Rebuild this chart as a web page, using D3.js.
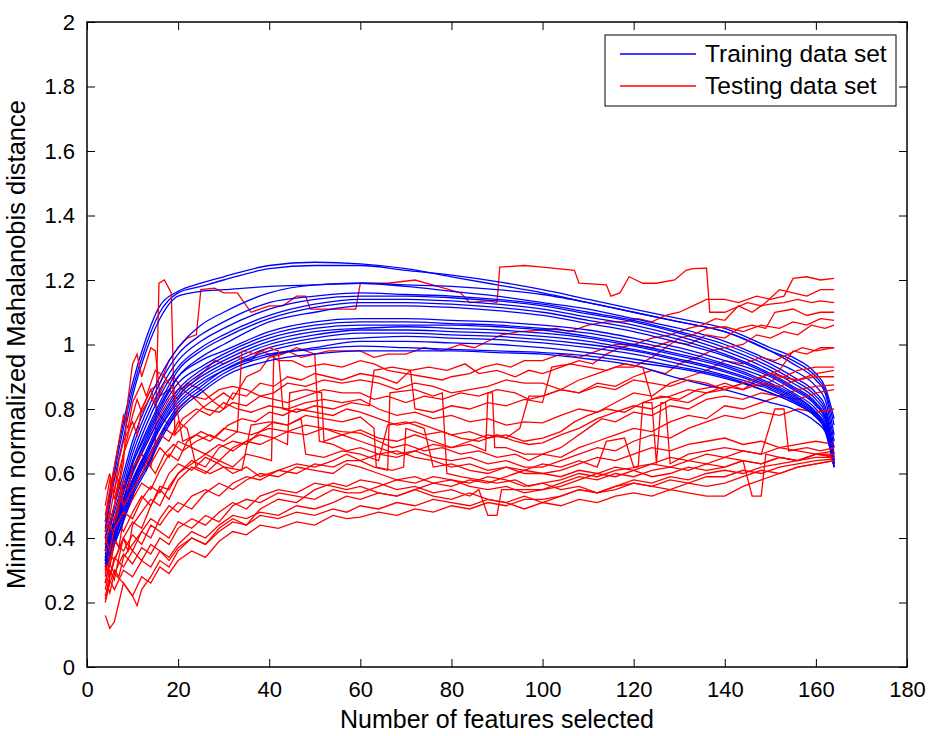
<!DOCTYPE html>
<html>
<head>
<meta charset="utf-8">
<script src="https://cdn.jsdelivr.net/npm/d3@7"></script>
<style>
  body { margin: 0; background: #fff; }
  text { font-family: "Liberation Sans", Arial, Helvetica, sans-serif; fill: #000; }
</style>
</head>
<body>
<script>
// x ticks / y ticks
var xTicks = [0, 20, 40, 60, 80, 100, 120, 140, 160, 180];
var yTicks = [0, 0.2, 0.4, 0.6, 0.8, 1, 1.2, 1.4, 1.6, 1.8, 2];

// number of features at which the training curves were read
var featureCounts = [4, 6, 8, 10, 13, 16, 20, 25, 30, 40, 50, 60, 70, 80, 90, 100, 110, 120, 130, 140, 150, 155, 160, 162, 164];

// training data set curves (one row per run, read at featureCounts)
var trainingCurves = [
  [0.45,0.62,0.76,0.88,1.02,1.12,1.165,1.19,1.21,1.245,1.255,1.25,1.235,1.21,1.185,1.16,1.13,1.10,1.07,1.04,0.98,0.95,0.90,0.86,0.75],
  [0.43,0.60,0.74,0.86,1.00,1.10,1.16,1.18,1.20,1.235,1.245,1.245,1.23,1.215,1.195,1.17,1.14,1.11,1.08,1.05,0.99,0.96,0.91,0.87,0.77],
  [0.42,0.58,0.71,0.84,0.98,1.08,1.15,1.165,1.17,1.18,1.185,1.19,1.185,1.18,1.17,1.155,1.13,1.10,1.07,1.04,0.98,0.94,0.89,0.85,0.72],
  [0.40,0.50,0.60,0.70,0.81,0.90,0.99,1.06,1.10,1.16,1.185,1.19,1.18,1.165,1.15,1.13,1.11,1.08,1.05,1.01,0.95,0.92,0.87,0.83,0.70],
  [0.38,0.48,0.58,0.68,0.79,0.88,0.97,1.03,1.07,1.13,1.15,1.16,1.155,1.15,1.14,1.125,1.10,1.075,1.04,1.00,0.94,0.90,0.85,0.81,0.68],
  [0.36,0.46,0.56,0.66,0.77,0.86,0.95,1.01,1.05,1.11,1.14,1.15,1.15,1.145,1.135,1.12,1.095,1.07,1.035,0.99,0.93,0.89,0.84,0.80,0.66],
  [0.37,0.45,0.55,0.64,0.75,0.84,0.93,0.99,1.03,1.09,1.125,1.14,1.14,1.135,1.125,1.11,1.085,1.06,1.025,0.98,0.92,0.88,0.83,0.79,0.65],
  [0.35,0.44,0.54,0.63,0.73,0.82,0.92,0.98,1.02,1.08,1.115,1.13,1.13,1.125,1.115,1.10,1.075,1.05,1.015,0.97,0.91,0.87,0.82,0.78,0.64],
  [0.34,0.43,0.52,0.61,0.71,0.80,0.90,0.96,1.00,1.07,1.10,1.12,1.12,1.115,1.105,1.09,1.065,1.04,1.005,0.965,0.905,0.865,0.815,0.775,0.63],
  [0.36,0.45,0.54,0.63,0.72,0.81,0.90,0.95,0.98,1.04,1.07,1.08,1.08,1.075,1.07,1.06,1.045,1.02,0.99,0.95,0.90,0.86,0.81,0.77,0.64],
  [0.34,0.43,0.52,0.61,0.70,0.79,0.88,0.93,0.97,1.03,1.06,1.07,1.07,1.065,1.06,1.05,1.035,1.01,0.98,0.94,0.89,0.85,0.80,0.76,0.63],
  [0.33,0.42,0.51,0.60,0.69,0.77,0.86,0.92,0.96,1.02,1.05,1.06,1.06,1.06,1.055,1.045,1.025,1.00,0.97,0.935,0.88,0.845,0.79,0.75,0.62],
  [0.32,0.41,0.50,0.58,0.67,0.76,0.85,0.91,0.95,1.01,1.04,1.05,1.055,1.05,1.045,1.035,1.02,0.995,0.965,0.93,0.875,0.84,0.79,0.75,0.62],
  [0.33,0.40,0.49,0.57,0.66,0.75,0.84,0.90,0.94,1.00,1.03,1.045,1.045,1.04,1.035,1.025,1.01,0.985,0.955,0.92,0.87,0.835,0.785,0.745,0.63],
  [0.31,0.39,0.48,0.56,0.65,0.74,0.83,0.89,0.93,0.99,1.02,1.035,1.035,1.03,1.025,1.015,1.00,0.98,0.95,0.915,0.865,0.83,0.78,0.74,0.62],
  [0.32,0.40,0.47,0.55,0.64,0.72,0.81,0.87,0.92,0.98,1.01,1.02,1.025,1.02,1.015,1.005,0.99,0.97,0.94,0.905,0.86,0.825,0.78,0.74,0.63],
  [0.31,0.38,0.46,0.54,0.62,0.71,0.80,0.86,0.91,0.965,0.99,1.01,1.01,1.005,1.00,0.99,0.975,0.955,0.93,0.90,0.85,0.82,0.775,0.735,0.62],
  [0.31,0.38,0.45,0.53,0.61,0.70,0.79,0.85,0.90,0.95,0.97,0.98,0.98,0.98,0.975,0.97,0.955,0.935,0.895,0.86,0.82,0.80,0.76,0.73,0.62],
  [0.33,0.42,0.50,0.58,0.66,0.74,0.82,0.88,0.92,0.97,0.985,0.995,0.99,0.985,0.98,0.975,0.965,0.945,0.925,0.895,0.85,0.82,0.775,0.74,0.64]
];

// testing data set curves, [features, distance] pairs
var testingCurves = [
  [[4,0.40],[5,0.47],[6,0.55],[8,0.66],[10,0.74],[12,0.80],[14,0.86],[16,0.88],[18,0.95],[20,0.99],[22,1.02],[24,1.03],[25,1.17],[28,1.175],[30,1.16],[33,1.16],[36,1.10],[38,1.11],[40,1.12],[43,1.12],[46,1.15],[48,1.15],[49,1.11],[55,1.11],[59,1.11],[60,1.19],[66,1.19],[72,1.20],[77,1.18],[82,1.16],[84,1.13],[88,1.135],[90,1.13],[90.6,1.24],[96,1.245],[100,1.24],[107,1.23],[108,1.19],[114,1.185],[115,1.15],[117,1.16],[119,1.21],[122,1.19],[125,1.19],[129,1.20],[131.5,1.23],[133,1.235],[136,1.237],[136.7,1.10],[140,1.10],[145,1.13],[148,1.12],[150,1.125],[153,1.13],[156,1.14],[159,1.13],[161,1.135],[164,1.13]],
  [[4,0.33],[5,0.42],[6,0.50],[7,0.58],[8,0.55],[10,0.62],[12,0.66],[14,0.62],[15,0.70],[15.8,1.19],[17,1.20],[18.5,1.16],[19.3,0.72],[22,0.76],[25,0.80],[27,0.82],[30,0.85],[32,0.83],[35,0.90],[38,0.92],[40,0.96],[43,0.97],[46,0.99],[50,0.97],[53,0.98],[57,0.98],[60,0.98],[63,0.96],[66,0.97],[70,0.97],[74,0.99],[78,0.98],[82,1.0],[85,0.99],[88,1.01],[91,1.03],[95,1.04],[100,1.045],[103,1.05],[106,1.04],[110,1.06],[114,1.07],[118,1.07],[121,1.08],[124,1.07],[127,1.09],[130,1.10],[133,1.12],[136,1.14],[140,1.14],[143,1.13],[147,1.15],[150,1.14],[153,1.15],[155,1.205],[158,1.21],[161,1.20],[164,1.205]],
  [[4,0.28],[5,0.36],[6,0.44],[8,0.52],[10,0.60],[12,0.66],[14,0.72],[16,0.78],[18,0.83],[20,0.86],[23,0.88],[26,0.92],[28,0.95],[30,0.94],[33,0.96],[36,0.95],[38,0.98],[40,0.97],[42,0.95],[45,0.95],[48,0.93],[52,0.94],[56,0.93],[60,0.95],[63,0.94],[66,0.92],[70,0.91],[74,0.90],[78,0.89],[80,0.90],[84,0.91],[87,0.93],[90,0.94],[93,0.93],[96,0.95],[100,0.95],[104,0.97],[108,0.96],[112,0.98],[116,1.00],[120,1.00],[124,1.02],[128,1.03],[132,1.05],[135,1.06],[138,1.08],[140,1.075],[143,1.12],[146,1.10],[149,1.13],[152,1.17],[155,1.16],[158,1.15],[161,1.17],[164,1.17]],
  [[4,0.36],[5,0.44],[6,0.50],[8,0.63],[9,0.83],[10,0.94],[11,0.97],[12,0.90],[14,0.99],[15,0.98],[16,0.84],[18,0.86],[20,0.83],[22,0.88],[25,0.86],[28,0.82],[30,0.80],[32,0.85],[35,0.84],[38,0.88],[41,0.87],[44,0.90],[47,0.89],[50,0.91],[53,0.90],[56,0.89],[60,0.91],[64,0.90],[68,0.88],[71,0.92],[75,0.93],[79,0.92],[83,0.94],[86,0.91],[90,0.92],[94,0.90],[97,0.92],[100,0.91],[104,0.93],[108,0.95],[111,0.94],[114,0.97],[117,0.99],[120,1.00],[124,0.99],[128,1.01],[132,1.00],[136,1.03],[140,1.02],[143,1.05],[146,1.06],[149,1.05],[151,1.10],[155,1.11],[158,1.09],[161,1.10],[164,1.10]],
  [[4,0.45],[5,0.52],[6,0.60],[7,0.57],[8,0.66],[10,0.78],[11,0.83],[12,0.79],[14,0.84],[16,0.78],[18,0.75],[20,0.80],[23,0.84],[26,0.83],[29,0.86],[32,0.87],[35,0.86],[38,0.84],[41,0.85],[44,0.88],[48,0.87],[52,0.89],[56,0.88],[60,0.89],[64,0.88],[68,0.86],[72,0.88],[76,0.87],[80,0.85],[84,0.86],[88,0.87],[92,0.89],[96,0.88],[100,0.88],[104,0.86],[108,0.89],[112,0.91],[116,0.93],[120,0.93],[124,0.96],[127,0.99],[130,1.02],[133,1.03],[136,1.05],[140,1.055],[144,1.04],[148,1.06],[152,1.05],[155,1.07],[158,1.06],[161,1.08],[164,1.075]],
  [[4,0.50],[5,0.58],[6,0.54],[7,0.64],[8,0.70],[10,0.76],[11,0.72],[12,0.80],[14,0.86],[15,0.82],[17,0.88],[19,0.90],[21,0.86],[23,0.84],[26,0.80],[29,0.79],[32,0.82],[35,0.81],[38,0.84],[41,0.83],[44,0.82],[48,0.84],[52,0.86],[56,0.85],[60,0.85],[63,0.83],[66,0.84],[70,0.82],[74,0.84],[78,0.83],[82,0.85],[86,0.84],[90,0.86],[94,0.85],[97,0.83],[100,0.84],[104,0.86],[108,0.85],[112,0.88],[116,0.87],[120,0.90],[124,0.92],[127,0.91],[130,0.94],[134,0.96],[137,0.98],[140,0.99],[144,1.00],[147,1.03],[150,1.02],[153,1.04],[156,1.03],[159,1.06],[162,1.05],[164,1.06]],
  [[4,0.30],[5,0.38],[6,0.45],[8,0.52],[10,0.58],[12,0.64],[13,0.61],[15,0.68],[17,0.74],[19,0.72],[21,0.77],[24,0.80],[27,0.78],[30,0.82],[33,0.80],[36,0.79],[40,0.81],[44,0.80],[48,0.82],[52,0.83],[56,0.82],[60,0.83],[64,0.80],[68,0.78],[72,0.79],[76,0.77],[80,0.78],[84,0.76],[88,0.77],[92,0.75],[96,0.76],[100,0.757],[104,0.78],[108,0.80],[112,0.79],[116,0.82],[120,0.85],[124,0.84],[128,0.88],[132,0.90],[136,0.92],[140,0.95],[144,0.94],[148,0.96],[151,0.95],[154,0.97],[157,0.99],[160,0.98],[164,0.99]],
  [[4,0.26],[5,0.33],[6,0.40],[7,0.37],[8,0.46],[10,0.52],[12,0.57],[14,0.55],[16,0.61],[18,0.66],[20,0.64],[22,0.70],[25,0.73],[28,0.71],[31,0.75],[34,0.77],[37,0.76],[40,0.79],[43,0.78],[46,0.80],[50,0.79],[54,0.78],[57,0.80],[60,0.79],[64,0.77],[68,0.75],[72,0.76],[76,0.74],[80,0.72],[84,0.73],[88,0.71],[92,0.72],[96,0.70],[100,0.71],[104,0.73],[107,0.76],[110,0.78],[114,0.80],[118,0.79],[122,0.82],[126,0.84],[130,0.83],[134,0.86],[138,0.87],[140,0.88],[144,0.86],[147,0.89],[150,0.91],[153,0.90],[156,0.92],[160,0.93],[164,0.93]],
  [[4,0.22],[5,0.28],[6,0.33],[8,0.40],[9,0.36],[10,0.44],[12,0.48],[14,0.52],[16,0.50],[18,0.56],[20,0.60],[23,0.64],[26,0.62],[29,0.68],[32,0.70],[35,0.69],[38,0.73],[41,0.76],[44,0.75],[48,0.78],[52,0.77],[56,0.76],[60,0.775],[63,0.74],[63.5,0.62],[67,0.61],[69.5,0.62],[70,0.74],[74,0.72],[78,0.73],[82,0.71],[86,0.70],[90,0.72],[94,0.70],[97,0.69],[100,0.695],[104,0.72],[108,0.74],[112,0.77],[116,0.79],[120,0.81],[124,0.80],[128,0.83],[132,0.82],[136,0.85],[140,0.86],[144,0.88],[148,0.87],[152,0.90],[156,0.89],[160,0.91],[164,0.92]],
  [[4,0.38],[5,0.44],[6,0.41],[7,0.50],[8,0.55],[10,0.52],[11,0.60],[13,0.64],[15,0.60],[17,0.66],[19,0.69],[21,0.67],[24,0.70],[27,0.72],[30,0.70],[33,0.73],[36,0.72],[40,0.74],[44,0.73],[48,0.75],[52,0.74],[56,0.72],[60,0.735],[64,0.71],[68,0.70],[72,0.72],[76,0.70],[80,0.68],[84,0.69],[87.5,0.67],[88,0.85],[89,0.85],[89.5,0.68],[92,0.68],[96,0.66],[100,0.66],[104,0.68],[107,0.71],[110,0.74],[113,0.77],[116,0.76],[120,0.79],[124,0.78],[128,0.81],[132,0.80],[136,0.83],[140,0.84],[144,0.83],[148,0.85],[152,0.84],[156,0.86],[160,0.87],[164,0.875]],
  [[4,0.34],[5,0.31],[6,0.38],[7,0.44],[8,0.42],[10,0.48],[12,0.53],[14,0.50],[16,0.56],[18,0.55],[20,0.60],[23,0.63],[26,0.66],[29,0.64],[32,0.68],[35,0.70],[38,0.69],[41,0.71],[44,0.73],[48,0.72],[52,0.74],[56,0.73],[60,0.725],[64,0.70],[67,0.68],[70,0.69],[74,0.67],[78,0.68],[82,0.66],[86,0.67],[90,0.65],[94,0.66],[97,0.64],[100,0.66],[104,0.65],[108,0.68],[112,0.70],[116,0.72],[120,0.74],[124,0.73],[128,0.76],[132,0.78],[136,0.77],[140,0.81],[144,0.80],[148,0.82],[152,0.84],[156,0.83],[160,0.85],[164,0.86]],
  [[4,0.42],[5,0.48],[6,0.45],[7,0.52],[8,0.58],[9,0.55],[10,0.62],[12,0.66],[14,0.63],[16,0.68],[18,0.65],[20,0.70],[23,0.68],[26,0.66],[29,0.69],[32,0.67],[35,0.70],[38,0.72],[41,0.71],[44,0.69],[44.5,0.85],[48,0.86],[51.5,0.85],[52,0.70],[56,0.72],[60,0.70],[64,0.68],[68,0.66],[72,0.67],[76,0.65],[80,0.64],[84,0.65],[88,0.63],[92,0.64],[96,0.62],[100,0.62],[104,0.64],[108,0.66],[112,0.68],[116,0.67],[120,0.70],[124,0.72],[128,0.71],[132,0.74],[136,0.76],[140,0.78],[144,0.77],[148,0.79],[152,0.78],[156,0.80],[160,0.79],[164,0.80]],
  [[4,0.24],[5,0.30],[6,0.27],[7,0.34],[8,0.40],[10,0.45],[12,0.43],[14,0.50],[16,0.55],[18,0.52],[20,0.58],[23,0.62],[26,0.60],[29,0.64],[32,0.62],[35,0.66],[38,0.65],[40.5,0.64],[41,0.97],[44,0.98],[47,0.96],[50,0.97],[51,0.70],[54,0.69],[57,0.67],[60,0.68],[64,0.66],[68,0.67],[72,0.65],[76,0.64],[80,0.62],[84,0.63],[88,0.61],[92,0.62],[96,0.60],[100,0.60],[104,0.61],[108,0.63],[112,0.65],[116,0.64],[120,0.66],[124,0.68],[128,0.67],[132,0.69],[136,0.70],[140,0.71],[144,0.69],[148,0.70],[152,0.68],[156,0.69],[160,0.70],[164,0.69]],
  [[4,0.20],[5,0.26],[6,0.30],[7,0.28],[8,0.34],[10,0.38],[12,0.42],[14,0.40],[16,0.46],[18,0.50],[20,0.48],[23,0.53],[26,0.55],[29,0.53],[32,0.57],[35,0.59],[38,0.58],[42,0.61],[46,0.60],[50,0.63],[54,0.62],[57,0.64],[60,0.64],[63,0.62],[66,0.61],[66.5,0.85],[72,0.86],[76,0.84],[78,0.85],[79,0.60],[82,0.59],[86,0.58],[90,0.57],[94,0.58],[97,0.56],[100,0.57],[104,0.58],[108,0.60],[112,0.59],[116,0.61],[121,0.62],[122,0.82],[124,0.82],[125,0.63],[126,0.82],[127,0.82],[128,0.63],[132,0.66],[136,0.67],[140,0.68],[144,0.67],[148,0.66],[152,0.68],[156,0.67],[160,0.66],[164,0.67]],
  [[4,0.29],[5,0.35],[6,0.33],[8,0.40],[10,0.36],[12,0.42],[14,0.46],[16,0.44],[18,0.48],[20,0.51],[23,0.49],[26,0.54],[29,0.57],[32,0.55],[35,0.58],[38,0.60],[42,0.59],[46,0.62],[50,0.61],[54,0.60],[57,0.63],[60,0.62],[64,0.60],[68,0.58],[72,0.59],[76,0.57],[80,0.58],[84,0.56],[88,0.55],[92,0.56],[96,0.54],[100,0.55],[104,0.56],[108,0.58],[112,0.60],[116,0.59],[120,0.61],[124,0.63],[128,0.62],[132,0.64],[136,0.63],[140,0.65],[144,0.64],[146,0.53],[148,0.53],[149,0.66],[152,0.65],[156,0.64],[160,0.66],[164,0.655]],
  [[4,0.16],[5,0.12],[6,0.14],[7,0.20],[8,0.26],[10,0.22],[11,0.19],[12,0.24],[14,0.28],[16,0.33],[18,0.31],[20,0.36],[23,0.40],[26,0.38],[29,0.43],[32,0.46],[35,0.44],[38,0.49],[42,0.52],[46,0.51],[50,0.55],[54,0.57],[57,0.56],[60,0.58],[64,0.57],[68,0.55],[72,0.56],[76,0.54],[80,0.55],[84,0.53],[86,0.55],[88,0.47],[90,0.47],[91,0.55],[96,0.55],[100,0.55],[104,0.57],[108,0.59],[112,0.58],[116,0.60],[120,0.59],[124,0.61],[128,0.62],[132,0.61],[136,0.63],[140,0.62],[144,0.64],[148,0.63],[152,0.65],[156,0.64],[160,0.66],[164,0.65]],
  [[4,0.26],[5,0.32],[6,0.29],[8,0.35],[10,0.32],[12,0.37],[14,0.35],[16,0.40],[18,0.38],[20,0.43],[23,0.46],[26,0.44],[29,0.48],[32,0.51],[35,0.49],[38,0.53],[42,0.55],[46,0.54],[50,0.57],[54,0.56],[57,0.55],[60,0.56],[64,0.54],[68,0.53],[72,0.55],[76,0.53],[80,0.52],[84,0.54],[88,0.52],[92,0.51],[96,0.53],[100,0.51],[104,0.53],[108,0.55],[112,0.54],[116,0.56],[120,0.57],[124,0.56],[128,0.58],[132,0.57],[136,0.59],[140,0.59],[144,0.61],[148,0.60],[152,0.62],[156,0.63],[160,0.64],[164,0.645]],
  [[4,0.37],[5,0.33],[6,0.39],[8,0.36],[10,0.41],[12,0.38],[14,0.44],[16,0.42],[18,0.40],[20,0.45],[23,0.43],[26,0.47],[29,0.45],[32,0.50],[35,0.52],[38,0.51],[42,0.54],[46,0.53],[50,0.52],[54,0.55],[57,0.54],[60,0.54],[64,0.56],[68,0.58],[72,0.57],[76,0.59],[80,0.58],[84,0.57],[88,0.59],[92,0.58],[96,0.56],[100,0.57],[104,0.55],[108,0.56],[112,0.54],[116,0.55],[120,0.57],[124,0.56],[128,0.55],[132,0.57],[136,0.56],[140,0.57],[144,0.59],[148,0.61],[152,0.60],[156,0.62],[160,0.63],[164,0.64]],
  [[4,0.21],[5,0.27],[6,0.24],[8,0.30],[10,0.28],[12,0.33],[14,0.31],[16,0.36],[18,0.34],[20,0.38],[23,0.42],[26,0.40],[29,0.44],[32,0.47],[35,0.46],[38,0.48],[42,0.47],[46,0.50],[50,0.49],[54,0.51],[57,0.53],[60,0.52],[64,0.54],[68,0.53],[72,0.55],[76,0.57],[80,0.56],[84,0.58],[88,0.57],[92,0.59],[96,0.61],[100,0.60],[104,0.59],[108,0.61],[112,0.60],[116,0.62],[120,0.61],[124,0.59],[128,0.60],[132,0.62],[136,0.61],[140,0.62],[144,0.64],[148,0.63],[152,0.65],[156,0.64],[160,0.66],[164,0.66]],
  [[4,0.32],[5,0.28],[6,0.34],[8,0.31],[10,0.36],[12,0.33],[14,0.38],[16,0.36],[18,0.33],[20,0.37],[23,0.40],[26,0.38],[29,0.42],[32,0.45],[35,0.44],[38,0.47],[42,0.46],[46,0.48],[50,0.47],[54,0.49],[57,0.48],[60,0.50],[64,0.49],[68,0.51],[72,0.50],[76,0.52],[80,0.51],[84,0.50],[88,0.52],[92,0.51],[96,0.49],[100,0.51],[104,0.50],[108,0.52],[112,0.51],[116,0.53],[120,0.54],[124,0.53],[128,0.55],[132,0.54],[136,0.53],[140,0.53],[144,0.56],[148,0.58],[152,0.60],[156,0.62],[160,0.63],[164,0.64]],
  [[4,0.27],[5,0.23],[6,0.29],[8,0.26],[10,0.22],[12,0.28],[14,0.26],[16,0.31],[18,0.29],[20,0.33],[23,0.36],[26,0.34],[29,0.39],[32,0.42],[35,0.41],[38,0.44],[42,0.43],[46,0.45],[50,0.44],[54,0.47],[57,0.46],[60,0.465],[64,0.48],[68,0.47],[72,0.49],[76,0.48],[80,0.50],[84,0.49],[88,0.51],[92,0.50],[96,0.52],[100,0.52],[104,0.53],[108,0.55],[112,0.54],[116,0.56],[120,0.58],[124,0.57],[128,0.59],[132,0.58],[136,0.60],[140,0.61],[144,0.60],[148,0.62],[152,0.63],[156,0.64],[160,0.65],[164,0.65]],
  [[4,0.40],[5,0.36],[6,0.43],[8,0.48],[10,0.46],[12,0.52],[14,0.56],[16,0.54],[18,0.60],[20,0.63],[23,0.61],[26,0.65],[29,0.63],[32,0.60],[35,0.62],[38,0.59],[42,0.61],[46,0.63],[50,0.62],[54,0.64],[57,0.66],[60,0.64],[64,0.66],[68,0.65],[72,0.67],[76,0.69],[80,0.68],[84,0.70],[88,0.72],[92,0.71],[95,0.74],[97,0.84],[100,0.84],[104,0.86],[108,0.85],[112,0.87],[116,0.86],[120,0.89],[124,0.88],[128,0.87],[132,0.89],[136,0.88],[140,0.86],[144,0.88],[148,0.90],[152,0.92],[155,0.98],[158,0.97],[161,0.99],[164,0.99]],
  [[4,0.47],[5,0.55],[6,0.62],[7,0.70],[8,0.78],[9,0.74],[10,0.82],[12,0.88],[13,0.84],[15,0.92],[17,0.90],[19,0.86],[21,0.70],[24,0.72],[27,0.70],[30,0.74],[33,0.73],[34,0.98],[37,0.97],[40,0.99],[42,0.98],[43,0.80],[46,0.79],[50,0.81],[54,0.80],[58,0.82],[62,0.81],[63,0.92],[67,0.93],[71,0.92],[72,0.80],[76,0.79],[80,0.81],[84,0.80],[88,0.82],[92,0.81],[96,0.83],[100,0.82],[102,0.93],[106,0.94],[110,0.93],[114,0.92],[118,0.94],[122,0.93],[124,0.83],[128,0.84],[132,0.86],[136,0.85],[140,0.87],[144,0.86],[148,0.88],[152,0.87],[156,0.89],[160,0.90],[164,0.90]],
  [[4,0.55],[5,0.60],[6,0.52],[7,0.58],[8,0.50],[10,0.55],[12,0.60],[14,0.66],[16,0.72],[18,0.70],[20,0.76],[22,0.74],[24,0.62],[27,0.60],[30,0.62],[34,0.61],[36,0.75],[40,0.76],[44,0.75],[47,0.77],[48,0.66],[52,0.65],[56,0.67],[60,0.66],[64,0.64],[66,0.75],[70,0.76],[74,0.74],[76,0.62],[80,0.63],[84,0.61],[88,0.60],[92,0.62],[96,0.61],[100,0.63],[104,0.62],[108,0.64],[112,0.62],[114,0.70],[118,0.71],[120,0.62],[124,0.63],[128,0.65],[132,0.64],[136,0.66],[140,0.65],[144,0.67],[148,0.66],[151,0.80],[153,0.80],[154,0.67],[158,0.68],[161,0.67],[164,0.68]]
];

var legendLabels = ["Training data set", "Testing data set"];
var seriesColors = ["#0000ff", "#ff0000"];

window.onload = function()
 {
    var margin = {top: 22, right: 27, bottom: 69, left: 87},
    width = 934 - margin.left - margin.right,
    height = 736 - margin.top - margin.bottom;

    var x = d3.scaleLinear().domain([0, 180]).range([0, width]);
    var y = d3.scaleLinear().domain([0, 2]).range([height, 0]);

    var svg = d3.select("body").append("svg")
        .attr("width", 934)
        .attr("height", 736)
      .append("g")
        .attr("transform", "translate(" + margin.left + "," + margin.top + ")");

    var trainLine = d3.line()
        .x(function(d, i) { return x(featureCounts[i]); })
        .y(function(d) { return y(d); })
        .curve(d3.curveMonotoneX);

    var testLine = d3.line()
        .x(function(d) { return x(d[0]); })
        .y(function(d) { return y(d[1]); });

    // training and testing runs plotted alternately
    var runs = [];
    var n = Math.max(trainingCurves.length, testingCurves.length);
    for (var i = 0; i < n; i++) {
        if (trainingCurves[i]) runs.push({type: 0, d: trainLine(trainingCurves[i])});
        if (testingCurves[i]) runs.push({type: 1, d: testLine(testingCurves[i])});
    }

    svg.append("g")
        .selectAll("path")
        .data(runs)
      .enter().append("path")
        .attr("d", function(d) { return d.d; })
        .attr("fill", "none")
        .attr("stroke", function(d) { return seriesColors[d.type]; })
        .attr("stroke-width", 1.3);

    // axes, ticks pointing inwards on all four sides
    var fmt = d3.format("~g");
    svg.append("g")
        .attr("transform", "translate(0," + height + ")")
        .call(d3.axisBottom(x).tickValues(xTicks).tickSize(-8).tickPadding(14).tickFormat(fmt));
    svg.append("g")
        .call(d3.axisTop(x).tickValues(xTicks).tickSize(-8).tickFormat(""));
    svg.append("g")
        .call(d3.axisLeft(y).tickValues(yTicks).tickSize(-8).tickPadding(12).tickFormat(fmt));
    svg.append("g")
        .attr("transform", "translate(" + width + ",0)")
        .call(d3.axisRight(y).tickValues(yTicks).tickSize(-8).tickFormat(""));

    svg.selectAll(".domain").remove();
    svg.selectAll(".tick line").attr("stroke", "#000").attr("stroke-width", 1);
    svg.selectAll(".tick text")
        .style("font-family", "'Liberation Sans', Arial, sans-serif")
        .style("font-size", "22px")
        .attr("fill", "#000");

    svg.append("rect")
        .attr("width", width)
        .attr("height", height)
        .attr("fill", "none")
        .attr("stroke", "#000")
        .attr("stroke-width", 1.5);

    svg.append("text")
        .attr("x", width / 2)
        .attr("y", height + 61)
        .attr("text-anchor", "middle")
        .style("font-size", "25px")
        .text("Number of features selected");

    svg.append("text")
        .attr("transform", "translate(" + (-62) + "," + (height / 2) + ") rotate(-90)")
        .attr("text-anchor", "middle")
        .style("font-size", "25.5px")
        .text("Minimum normalized Mahalanobis distance");

    // legend
    var legend = svg.append("g")
        .attr("transform", "translate(" + (605 - margin.left) + "," + (35 - margin.top) + ")");
    legend.append("rect")
        .attr("width", 291)
        .attr("height", 71)
        .attr("fill", "#fff")
        .attr("stroke", "#000")
        .attr("stroke-width", 1);
    var items = legend.selectAll(".item")
        .data(legendLabels)
      .enter().append("g")
        .attr("class", "item")
        .attr("transform", function(d, i) { return "translate(0," + (19 + i * 32) + ")"; });
    items.append("line")
        .attr("x1", 15).attr("x2", 91)
        .attr("stroke", function(d, i) { return seriesColors[i]; })
        .attr("stroke-width", 1.3);
    items.append("text")
        .attr("x", 100)
        .attr("y", 8)
        .style("font-size", "24.5px")
        .text(function(d) { return d; });
 }
</script>
</body>
</html>
